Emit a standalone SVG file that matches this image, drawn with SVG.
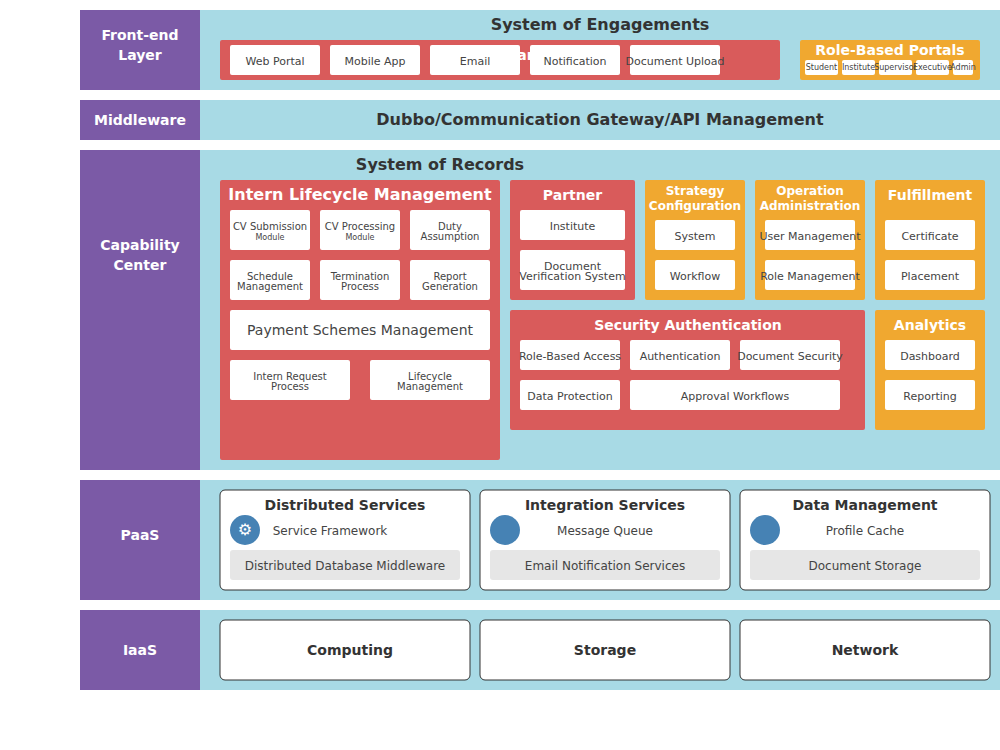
<svg xmlns="http://www.w3.org/2000/svg" width="1000" height="750" viewBox="0 0 1000 750">
<style>
text{font-family:"DejaVu Sans",sans-serif;text-anchor:middle;dominant-baseline:central}
.layer{fill:#7b5aa6}.band{fill:#a8dae5}
.lt{fill:#fff;font-weight:700;font-size:14px}
.h{fill:#333;font-weight:700}
.red{fill:#d95b5b}.org{fill:#f0a830}
.w{fill:#fff}
.gt{fill:#fff;font-weight:700}
.t{fill:#444;font-size:11px}
.s{fill:#444;font-size:10px}
.xs{fill:#444;font-size:8px}
.m{fill:#444;font-size:12px}
.card{fill:#fff;stroke:#333;stroke-width:1}
.grey{fill:#e6e6e6}
.dot{fill:#4682b4}
</style>
<g id="layer-frontend">
<rect class="layer" x="80" y="10" width="120" height="80"/><rect class="band" x="200" y="10" width="800" height="80"/>
<text class="lt" x="140" y="35">Front-end</text><text class="lt" x="140" y="55">Layer</text>
<text class="h" x="600" y="24.400" font-size="16">System of Engagements</text>
</g>
<g id="channels">
<rect class="red" x="220" y="40" width="560" height="40" rx="2"/>
<text class="gt" x="527" y="55" font-size="14">an</text>
<rect class="w" x="230" y="45" width="90" height="30" rx="2"/><text class="t" x="275" y="61">Web Portal</text>
<rect class="w" x="330" y="45" width="90" height="30" rx="2"/><text class="t" x="375" y="61">Mobile App</text>
<rect class="w" x="430" y="45" width="90" height="30" rx="2"/><text class="t" x="475" y="61">Email</text>
<rect class="w" x="530" y="45" width="90" height="30" rx="2"/><text class="t" x="575" y="61">Notification</text>
<rect class="w" x="630" y="45" width="90" height="30" rx="2"/><text class="t" x="675" y="61">Document Upload</text>
</g>
<g id="portals">
<rect class="org" x="800" y="40" width="180" height="40" rx="2"/>
<text class="gt" x="890" y="50" font-size="14">Role-Based Portals</text>
<rect class="w" x="805" y="60" width="33" height="15" rx="2"/><text class="xs" x="821.500" y="67">Student</text>
<rect class="w" x="842" y="60" width="33" height="15" rx="2"/><text class="xs" x="858.500" y="67">Institute</text>
<rect class="w" x="879" y="60" width="33" height="15" rx="2"/><text class="xs" x="895.500" y="67">Supervisor</text>
<rect class="w" x="916" y="60" width="33" height="15" rx="2"/><text class="xs" x="932.500" y="67">Executive</text>
<rect class="w" x="953" y="60" width="20" height="15" rx="2"/><text class="xs" x="963" y="67">Admin</text>
</g>
<g id="layer-middleware">
<rect class="layer" x="80" y="100" width="120" height="40"/><rect class="band" x="200" y="100" width="800" height="40"/>
<text class="lt" x="140" y="120">Middleware</text>
<text class="h" x="600" y="119.400" font-size="16">Dubbo/Communication Gateway/API Management</text>
</g>
<g id="layer-capability">
<rect class="layer" x="80" y="150" width="120" height="320"/><rect class="band" x="200" y="150" width="800" height="320"/>
<text class="lt" x="140" y="245">Capability</text><text class="lt" x="140" y="265">Center</text>
<text class="h" x="440" y="164.400" font-size="16">System of Records</text>
</g>
<g id="intern">
<rect class="red" x="220" y="180" width="280" height="280" rx="2"/>
<text class="gt" x="360" y="194.400" font-size="16">Intern Lifecycle Management</text>
<rect class="w" x="230" y="210" width="80" height="40" rx="2"/><text class="s" x="270" y="226.400">CV Submission</text><text class="xs" x="270" y="237">Module</text>
<rect class="w" x="320" y="210" width="80" height="40" rx="2"/><text class="s" x="360" y="226.400">CV Processing</text><text class="xs" x="360" y="237">Module</text>
<rect class="w" x="410" y="210" width="80" height="40" rx="2"/><text class="s" x="450" y="226.400">Duty</text><text class="s" x="450" y="236.400">Assumption</text>
<rect class="w" x="230" y="260" width="80" height="40" rx="2"/><text class="s" x="270" y="276.400">Schedule</text><text class="s" x="270" y="286.400">Management</text>
<rect class="w" x="320" y="260" width="80" height="40" rx="2"/><text class="s" x="360" y="276.400">Termination</text><text class="s" x="360" y="286.400">Process</text>
<rect class="w" x="410" y="260" width="80" height="40" rx="2"/><text class="s" x="450" y="276.400">Report</text><text class="s" x="450" y="286.400">Generation</text>
<rect class="w" x="230" y="310" width="260" height="40" rx="2"/><text fill="#444" font-size="14" x="360" y="330">Payment Schemes Management</text>
<rect class="w" x="230" y="360" width="120" height="40" rx="2"/><text class="s" x="290" y="376.400">Intern Request</text><text class="s" x="290" y="386.400">Process</text>
<rect class="w" x="370" y="360" width="120" height="40" rx="2"/><text class="s" x="430" y="376.400">Lifecycle</text><text class="s" x="430" y="386.400">Management</text>
</g>
<g id="partner">
<rect class="red" x="510" y="180" width="125" height="120" rx="2"/>
<text class="gt" x="572.500" y="195" font-size="14">Partner</text>
<rect class="w" x="520" y="210" width="105" height="30" rx="2"/><text class="t" x="572.500" y="226">Institute</text>
<rect class="w" x="520" y="250" width="105" height="40" rx="2"/><text class="t" x="572.500" y="266">Document</text><text class="t" x="572.500" y="276">Verification System</text>
</g>
<g id="strategy">
<rect class="org" x="645" y="180" width="100" height="120" rx="2"/>
<text class="gt" x="695" y="191" font-size="12">Strategy</text><text class="gt" x="695" y="206" font-size="12">Configuration</text>
<rect class="w" x="655" y="220" width="80" height="30" rx="2"/><text class="t" x="695" y="236">System</text>
<rect class="w" x="655" y="260" width="80" height="30" rx="2"/><text class="t" x="695" y="276">Workflow</text>
</g>
<g id="operation">
<rect class="org" x="755" y="180" width="110" height="120" rx="2"/>
<text class="gt" x="810" y="191" font-size="12">Operation</text><text class="gt" x="810" y="206" font-size="12">Administration</text>
<rect class="w" x="765" y="220" width="90" height="30" rx="2"/><text class="t" x="810" y="236">User Management</text>
<rect class="w" x="765" y="260" width="90" height="30" rx="2"/><text class="t" x="810" y="276">Role Management</text>
</g>
<g id="fulfillment">
<rect class="org" x="875" y="180" width="110" height="120" rx="2"/>
<text class="gt" x="930" y="195" font-size="14">Fulfillment</text>
<rect class="w" x="885" y="220" width="90" height="30" rx="2"/><text class="t" x="930" y="236">Certificate</text>
<rect class="w" x="885" y="260" width="90" height="30" rx="2"/><text class="t" x="930" y="276">Placement</text>
</g>
<g id="security">
<rect class="red" x="510" y="310" width="355" height="120" rx="2"/>
<text class="gt" x="688" y="325" font-size="14">Security Authentication</text>
<rect class="w" x="520" y="340" width="100" height="30" rx="2"/><text class="t" x="570" y="356">Role-Based Access</text>
<rect class="w" x="630" y="340" width="100" height="30" rx="2"/><text class="t" x="680" y="356">Authentication</text>
<rect class="w" x="740" y="340" width="100" height="30" rx="2"/><text class="t" x="790" y="356">Document Security</text>
<rect class="w" x="520" y="380" width="100" height="30" rx="2"/><text class="t" x="570" y="396">Data Protection</text>
<rect class="w" x="630" y="380" width="210" height="30" rx="2"/><text class="t" x="735" y="396">Approval Workflows</text>
</g>
<g id="analytics">
<rect class="org" x="875" y="310" width="110" height="120" rx="2"/>
<text class="gt" x="930" y="325" font-size="14">Analytics</text>
<rect class="w" x="885" y="340" width="90" height="30" rx="2"/><text class="t" x="930" y="356">Dashboard</text>
<rect class="w" x="885" y="380" width="90" height="30" rx="2"/><text class="t" x="930" y="396">Reporting</text>
</g>
<g id="layer-paas">
<rect class="layer" x="80" y="480" width="120" height="120"/><rect class="band" x="200" y="480" width="800" height="120"/>
<text class="lt" x="140" y="535">PaaS</text>
</g>
<g id="distributed">
<rect class="card" x="220" y="490" width="250" height="100" rx="5"/>
<text class="h" x="345" y="505" font-size="14">Distributed Services</text>
<circle class="dot" cx="245" cy="530" r="15"/><text x="245" y="529.500" fill="#fff" font-size="16">⚙</text>
<text class="m" x="330" y="531">Service Framework</text>
<rect class="grey" x="230" y="550" width="230" height="30" rx="3"/><text class="m" x="345" y="566">Distributed Database Middleware</text>
</g>
<g id="integration">
<rect class="card" x="480" y="490" width="250" height="100" rx="5"/>
<text class="h" x="605" y="505" font-size="14">Integration Services</text>
<circle class="dot" cx="505" cy="530" r="15"/>
<text class="m" x="605" y="531">Message Queue</text>
<rect class="grey" x="490" y="550" width="230" height="30" rx="3"/><text class="m" x="605" y="566">Email Notification Services</text>
</g>
<g id="data">
<rect class="card" x="740" y="490" width="250" height="100" rx="5"/>
<text class="h" x="865" y="505" font-size="14">Data Management</text>
<circle class="dot" cx="765" cy="530" r="15"/>
<text class="m" x="865" y="531">Profile Cache</text>
<rect class="grey" x="750" y="550" width="230" height="30" rx="3"/><text class="m" x="865" y="566">Document Storage</text>
</g>
<g id="layer-iaas">
<rect class="layer" x="80" y="610" width="120" height="80"/><rect class="band" x="200" y="610" width="800" height="80"/>
<text class="lt" x="140" y="650">IaaS</text>
</g>
<g id="computing"><rect class="card" x="220" y="620" width="250" height="60" rx="5"/><text class="h" x="350" y="650" font-size="14">Computing</text></g>
<g id="storage"><rect class="card" x="480" y="620" width="250" height="60" rx="5"/><text class="h" x="605" y="650" font-size="14">Storage</text></g>
<g id="network"><rect class="card" x="740" y="620" width="250" height="60" rx="5"/><text class="h" x="865" y="650" font-size="14">Network</text></g>
<g id="connectors"/>
</svg>
